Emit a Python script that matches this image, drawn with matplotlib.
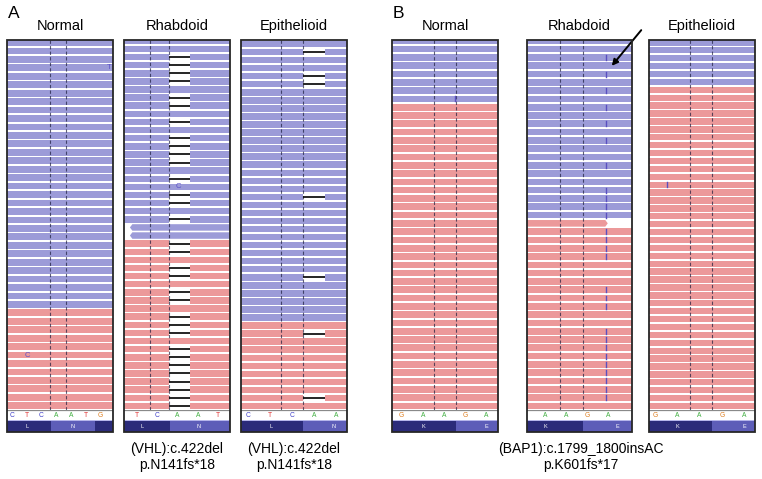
import matplotlib
matplotlib.use('Agg')
import matplotlib.pyplot as plt
from matplotlib.patches import Rectangle, Polygon

plt.rcParams['font.family'] = ['Liberation Sans', 'DejaVu Sans']

W, H = 762, 479

# ---- values ----
titles = ['Normal', 'Rhabdoid', 'Epithelioid', 'Normal', 'Rhabdoid', 'Epithelioid']

seqs = ['CTCAATG', 'TCAAT', 'CTCAA', 'GAAGA', 'AAGA', 'GAAGA']
amino = [('L', 'N'), ('L', 'N'), ('L', 'N'), ('K', 'E'), ('K', 'E'), ('K', 'E')]

# reads per strand (blue = reverse, red = forward) in each panel
blue_rows = [32, 25, 35, 8, 22, 6]
red_rows = [12, 21, 11, 37, 23, 41]

# rows carrying the VHL c.422del (A panels)
del_rows_a_rhab = [2, 3, 4, 5, 7, 8, 10, 12, 13, 14, 15, 17, 19, 20, 22,
                   25, 26, 28, 29, 31, 32, 34, 35, 36, 38, 39, 40, 41, 42, 43, 44, 45]
del_rows_a_epi = [1, 4, 5, 19, 29, 36, 44]

# rows carrying the BAP1 insAC (B panels)
ins_rows_b_normal = [7]
ins_rows_b_rhab = [2, 4, 6, 8, 10, 12, 15, 18, 19, 20, 21, 23, 24, 25, 26,
                   30, 31, 32, 35, 36, 37, 38, 39, 40, 41, 42, 43]
ins_rows_b_epi = [18]

# single mismatches (panel, base, row, letter)
mismatches = [(0, 6.6, 3, 'T'), (0, 1.05, 37, 'C'), (1, 2.04, 18, 'C')]

labels_a = ['(VHL):c.422del\np.N141fs*18', '(VHL):c.422del\np.N141fs*18']
label_b = '(BAP1):c.1799_1800insAC\np.K601fs*17'

# ---- layout (pixels / base units) ----
panel_x = [(7, 113), (124, 230), (241, 347), (392, 498), (527, 632), (649, 755)]
xlims = [(-0.32, 6.84), (-0.62, 4.58), (-0.33, 4.47), (-0.46, 4.56), (-0.9, 4.17), (-0.27, 4.48)]
row_top = [0.21, 0.4, 0.0, 0.4, 0.4, 0.2]
dash_x = [(2.59, 3.67), (0.65, 1.6), (1.48, 2.46), (1.55, 2.58), (0.69, 1.79), (1.57, 2.55)]
light_from = [2.66, 1.63, 2.5, 2.57, 1.8, 2.56]
light_to = [5.63, None, None, None, None, None]
aa_x = [(1.03, 4.14), (0.25, 3.06), (1.01, 3.88), (1.02, 4.0), (0.0, 3.48), (1.02, 4.0)]
del_span = {1: (1.6, 2.6), 2: (2.46, 3.47)}
del_rows = {1: del_rows_a_rhab, 2: del_rows_a_epi}
ins_x = {3: 2.5, 4: 2.91, 5: 0.53}
ins_rows = {3: ins_rows_b_normal, 4: ins_rows_b_rhab, 5: ins_rows_b_epi}
clip_left = {1: {23: -0.33, 24: -0.33}}
clip_right = {4: {22: 3.0}}

y_reads0, y_reads1, y_seq1, y_prot1 = 40, 410, 421, 432

BLUE = '#9c9bd8'
RED = '#ec999a'
base_col = {'A': '#3fae3f', 'C': '#3d3dc8', 'G': '#dd7d1e', 'T': '#e03131'}


def fax(x0, x1, y0, y1):
    return fig.add_axes([x0 / W, 1 - y1 / H, (x1 - x0) / W, (y1 - y0) / H])


fig = plt.figure(figsize=(W / 100, H / 100), dpi=100)

for p in range(6):
    x0, x1 = panel_x[p]
    xa, xb = xlims[p]
    n = blue_rows[p] + red_rows[p]

    ax = fax(x0, x1, y_reads0, y_reads1)
    ax.set_xlim(xa, xb)
    ax.set_ylim(n, row_top[p])
    ax.axis('off')

    cl = clip_left.get(p, {})
    cr = clip_right.get(p, {})
    for k in range(n):
        c = BLUE if k < blue_rows[p] else RED
        lo, hi = k + 0.1, k + 0.9
        if k in cl:
            s = cl[k]
            ax.add_patch(Polygon([(s + 0.12, lo), (s, k + 0.5), (s + 0.12, hi),
                                  (xb + 1, hi), (xb + 1, lo)], color=c, lw=0))
        elif k in cr:
            e = cr[k]
            ax.add_patch(Polygon([(xa - 1, lo), (e - 0.12, lo), (e, k + 0.5),
                                  (e - 0.12, hi), (xa - 1, hi)], color=c, lw=0))
        else:
            ax.barh(k + 0.5, xb - xa + 2, left=xa - 1, height=0.8, color=c, lw=0)

    for xd in dash_x[p]:
        ax.axvline(xd, color='#1c1c3c', lw=0.8, ls=(0, (3, 2)), alpha=0.7)

    if p in del_span:
        a, b = del_span[p]
        rows = del_rows[p]
        ax.barh([r + 0.5 for r in rows], b - a, left=a, height=1.0, color='white', lw=0)
        ax.hlines([r + 0.5 for r in rows], a, b, color='black', lw=1.2)

    if p in ins_x:
        xi = ins_x[p]
        for r in ins_rows[p]:
            ax.plot([xi, xi], [r + 0.2, r + 0.8], color='#5a50c0', lw=1.0)

    for (mp, mx, mr, ml) in mismatches:
        if mp == p:
            ax.text(mx, mr + 0.5, ml, color='#5a50c8', fontsize=5.5,
                    ha='center', va='center')

    # reference sequence track
    sx = fax(x0, x1, y_reads1, y_seq1)
    sx.set_xlim(xa, xb)
    sx.set_ylim(0, 1)
    sx.axis('off')
    sx.axhline(0.97, color='#8a8a8a', lw=0.9)
    sx.axhline(0.08, color='#a8a8e8', lw=0.6)
    for i, b in enumerate(seqs[p]):
        sx.text(i, 0.5, b, color=base_col[b], fontsize=4.8, ha='center', va='center')

    # amino acid track
    px = fax(x0, x1, y_seq1, y_prot1)
    px.set_xlim(xa, xb)
    px.set_ylim(0, 1)
    px.axis('off')
    px.add_patch(Rectangle((xa, 0), xb - xa, 1, color='#2b2b7a', lw=0))
    lt = light_to[p] if light_to[p] is not None else xb
    px.add_patch(Rectangle((light_from[p], 0), lt - light_from[p], 1, color='#5d5db8', lw=0))
    for aa, ax_ in zip(amino[p], aa_x[p]):
        px.text(ax_, 0.5, aa, color='white', fontsize=4, ha='center', va='center')

    # frame
    fig.patches.append(Rectangle((x0 / W, 1 - y_prot1 / H), (x1 - x0) / W,
                                 (y_prot1 - y_reads0) / H, transform=fig.transFigure,
                                 fill=False, ec='#262626', lw=1.3))

    fig.text((x0 + x1) / 2 / W, 1 - 26 / H, titles[p], ha='center', va='center', fontsize=10.5)

fig.text(8 / W, 1 - 14 / H, 'A', ha='left', va='center', fontsize=12.5)
fig.text(393 / W, 1 - 14 / H, 'B', ha='left', va='center', fontsize=12.5)

for p, lab in zip([1, 2], labels_a):
    x0, x1 = panel_x[p]
    fig.text((x0 + x1) / 2 / W, 1 - 457 / H, lab, ha='center', va='center',
             fontsize=10, linespacing=1.15)
fig.text(581 / W, 1 - 457 / H, label_b, ha='center', va='center', fontsize=10,
         linespacing=1.15)

# arrow pointing at the insertion in B Rhabdoid
fig.add_artist(matplotlib.patches.FancyArrowPatch(
    (643 / W, 1 - 28 / H), (610 / W, 1 - 68 / H), transform=fig.transFigure,
    arrowstyle='-|>', mutation_scale=9, lw=1.4, color='black'))

fig.savefig('out.png', dpi=100)
